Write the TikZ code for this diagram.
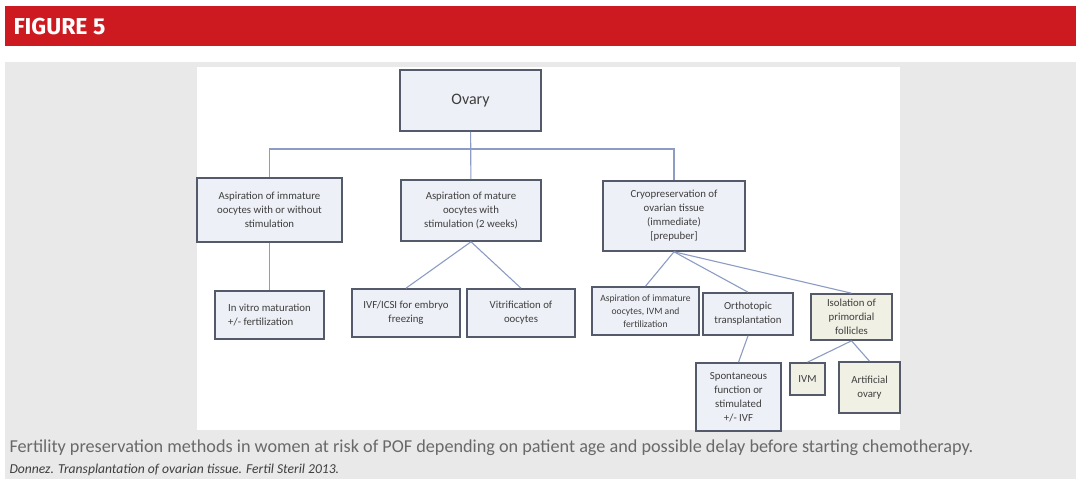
\documentclass[tikz,border=0pt]{standalone}
\usepackage{fontspec}
\setmainfont{Carlito}
\newfontfamily\headfont{Fira Sans}
\usepackage{tikz}
\usetikzlibrary{positioning}
\usepackage{xcolor}
\definecolor{bannerred}{RGB}{204,26,32}
\definecolor{panelgray}{RGB}{233,233,233}
\definecolor{boxblue}{RGB}{238,240,247}
\definecolor{boxbeige}{RGB}{241,240,229}
\definecolor{edgegray}{RGB}{84,90,106}
\definecolor{linkblue}{RGB}{140,156,196}
\definecolor{textgray}{RGB}{62,62,62}
\definecolor{captiongray}{RGB}{105,105,105}

\begin{document}
\begin{tikzpicture}[x=1pt, y=-1pt,
    every node/.style={font=\fontsize{10.8}{14}\selectfont, text=textgray},
    method/.style={draw=edgegray, line width=1.6pt, fill=boxblue, align=center, inner sep=1pt},
    tissue/.style={method, fill=boxbeige},
    link/.style={draw=linkblue, line width=1.1pt}]
      \useasboundingbox (0,0) rectangle (1076,479);
      \fill[white] (0,0) rectangle (1076,479);
      \fill[bannerred] (5,6) rectangle (1076,46);
      \node[anchor=west, text=white, font=\headfont\bfseries\fontsize{23}{26}\selectfont] (title) at (10,27) {FIGURE 5};
      \fill[panelgray] (5,62) rectangle (1076,479);
      \fill[white] (197,67) rectangle (900,430);

      \node[method, minimum width=141pt, minimum height=61pt, font=\fontsize{16}{18}\selectfont] (ovary) at (470.5,100.5) {Ovary};
      \node[method, minimum width=145pt, minimum height=64pt] (immature) at (269.5,210) {Aspiration of immature\\oocytes with or without\\stimulation};
      \node[method, minimum width=140pt, minimum height=61pt] (mature) at (471,210.5) {Aspiration of mature\\oocytes with\\stimulation (2 weeks)};
      \node[method, minimum width=142pt, minimum height=70pt] (cryo) at (674,216) {Cryopreservation of\\ovarian tissue\\(immediate)\\{[prepuber]}};
      \node[method, minimum width=109pt, minimum height=48pt, align=left] (invitro) at (269.5,315) {In vitro maturation\\+/- fertilization};
      \node[method, minimum width=108pt, minimum height=48pt] (ivf) at (406,313) {IVF/ICSI for embryo\\freezing};
      \node[method, minimum width=108pt, minimum height=48pt] (vitri) at (521,313) {Vitrification of\\oocytes};
      \node[method, minimum width=107pt, minimum height=48pt, font=\fontsize{9.6}{13}\selectfont] (aspivm) at (645.5,311) {Aspiration of immature\\oocytes, IVM and\\fertilization};
      \node[method, minimum width=90pt, minimum height=42pt] (ortho) at (748,314) {Orthotopic\\transplantation};
      \node[tissue, minimum width=81pt, minimum height=46pt] (isolation) at (851.5,317) {Isolation of\\primordial\\follicles};
      \node[method, minimum width=85pt, minimum height=68pt] (spont) at (738.5,397) {Spontaneous\\function or\\stimulated\\+/- IVF};
      \node[tissue, minimum width=35pt, minimum height=32pt] (ivm) at (807.5,379) {IVM};
      \node[tissue, minimum width=61pt, minimum height=51pt] (artif) at (869.5,387.5) {Artificial\\ovary};

      \coordinate (bus) at (471,149);
      \draw[link] (ovary) -- (mature);
      \draw[link] (immature.north) -- (immature.north |- bus) -- (cryo.north |- bus) -- (cryo.north);
      \draw[link] (immature) -- (invitro);
      \draw[link] (mature.south) -- (ivf.north);
      \draw[link] (mature.south) -- (vitri.north);
      \draw[link] (cryo.south) -- (aspivm.north);
      \draw[link] (cryo.south) -- (ortho.north);
      \draw[link] (cryo.south) -- (isolation.north);
      \draw[link] (ortho.south) -- (spont.north);
      \draw[link] (isolation.south) -- (ivm.north);
      \draw[link] (isolation.south) -- (artif.north);

      \node[anchor=west, text=captiongray, font=\fontsize{18.2}{20}\selectfont] (caption) at (6,448) {Fertility preservation methods in women at risk of POF depending on patient age and possible delay before starting chemotherapy.};
      \node[anchor=west, text=textgray, font=\itshape\fontsize{13.6}{15}\selectfont] (source) at (6,470) {Donnez. Transplantation of ovarian tissue. Fertil Steril 2013.};
    \end{tikzpicture}
\end{document}
